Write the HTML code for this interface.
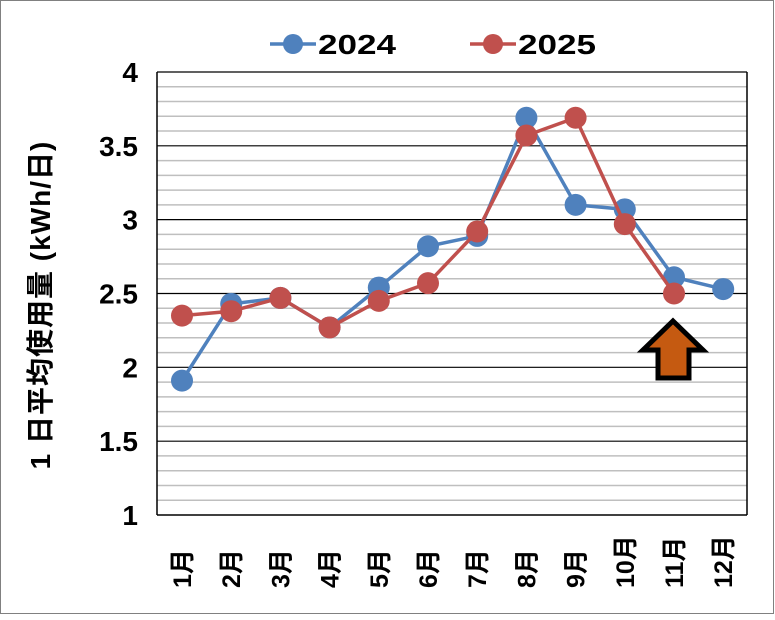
<!DOCTYPE html><html><head><meta charset="utf-8"><style>body{margin:0;background:#fff}</style></head><body>
<svg width="775" height="615" xmlns="http://www.w3.org/2000/svg" font-family="Liberation Sans, Noto Sans CJK JP, sans-serif" font-weight="bold">
<rect x="0.5" y="0.5" width="773" height="613" fill="#fff" stroke="#808080"/>
<g id="minor" stroke="#bfbfbf" stroke-width="1.5"></g>
<g id="major" stroke="#000" stroke-width="1.2"></g>
<line x1="157" y1="72" x2="157" y2="515" stroke="#000" stroke-width="1.5"/>
<line x1="747" y1="72" x2="747" y2="515" stroke="#000" stroke-width="1.5"/>
<line x1="157" y1="515" x2="747" y2="515" stroke="#000" stroke-width="1.5"/>
<g id="ylab" font-size="28" text-anchor="end"></g>
<g id="xlab" font-size="25"></g>
<text transform="translate(50,305) rotate(-90)" font-size="28" text-anchor="middle" letter-spacing="1">1 日平均使用量 (kWh/日)</text>
<g font-size="28"><line x1="270" y1="44" x2="316" y2="44" stroke="#4f81bd" stroke-width="3.5"/><circle cx="293" cy="44" r="10" fill="#4f81bd"/><text x="318" y="54" textLength="78" lengthAdjust="spacingAndGlyphs">2024</text>
<line x1="470" y1="44" x2="516" y2="44" stroke="#c0504d" stroke-width="3.5"/><circle cx="493" cy="44" r="10" fill="#c0504d"/><text x="518" y="54" textLength="78" lengthAdjust="spacingAndGlyphs">2025</text></g>
<g id="s"></g>
<polygon points="673,321 703,350 689,350 689,378 658,378 658,350 643,350" fill="#c55a11" stroke="#000" stroke-width="5" stroke-linejoin="miter"/>
</svg>
<script>
const ns="http://www.w3.org/2000/svg";
function el(p,t,a,txt){const e=document.createElementNS(ns,t);for(const k in a)e.setAttribute(k,a[k]);if(txt)e.textContent=txt;document.getElementById(p).appendChild(e);}
const Y=v=>515-(v-1)*147.67;
for(let i=1;i<30;i++){if(i%5)el('minor','line',{x1:157,x2:747,y1:Y(1+i*0.1),y2:Y(1+i*0.1)});}
for(let v=1.5;v<=4;v+=0.5)el('major','line',{x1:157,x2:747,y1:Y(v),y2:Y(v)});
["1","1.5","2","2.5","3","3.5","4"].forEach((t,i)=>el('ylab','text',{x:138,y:Y(1+i*0.5)+10},t));
const X=m=>182+(m-1)*49.2;
for(let m=1;m<=12;m++)el('xlab','text',{transform:`translate(${X(m)+9},588) rotate(-90)`},m+"月");
const a=[1.91,2.43,2.47,2.27,2.54,2.82,2.89,3.69,3.1,3.07,2.61,2.53];
const b=[2.35,2.38,2.47,2.27,2.45,2.57,2.92,3.57,3.69,2.97,2.50];
[[a,"#4f81bd"],[b,"#c0504d"]].forEach(([d,c])=>{el('s','polyline',{points:d.map((v,i)=>X(i+1)+","+Y(v)).join(" "),fill:"none",stroke:c,"stroke-width":3.5});d.forEach((v,i)=>el('s','circle',{cx:X(i+1),cy:Y(v),r:11,fill:c}));});
</script>
</body></html>
